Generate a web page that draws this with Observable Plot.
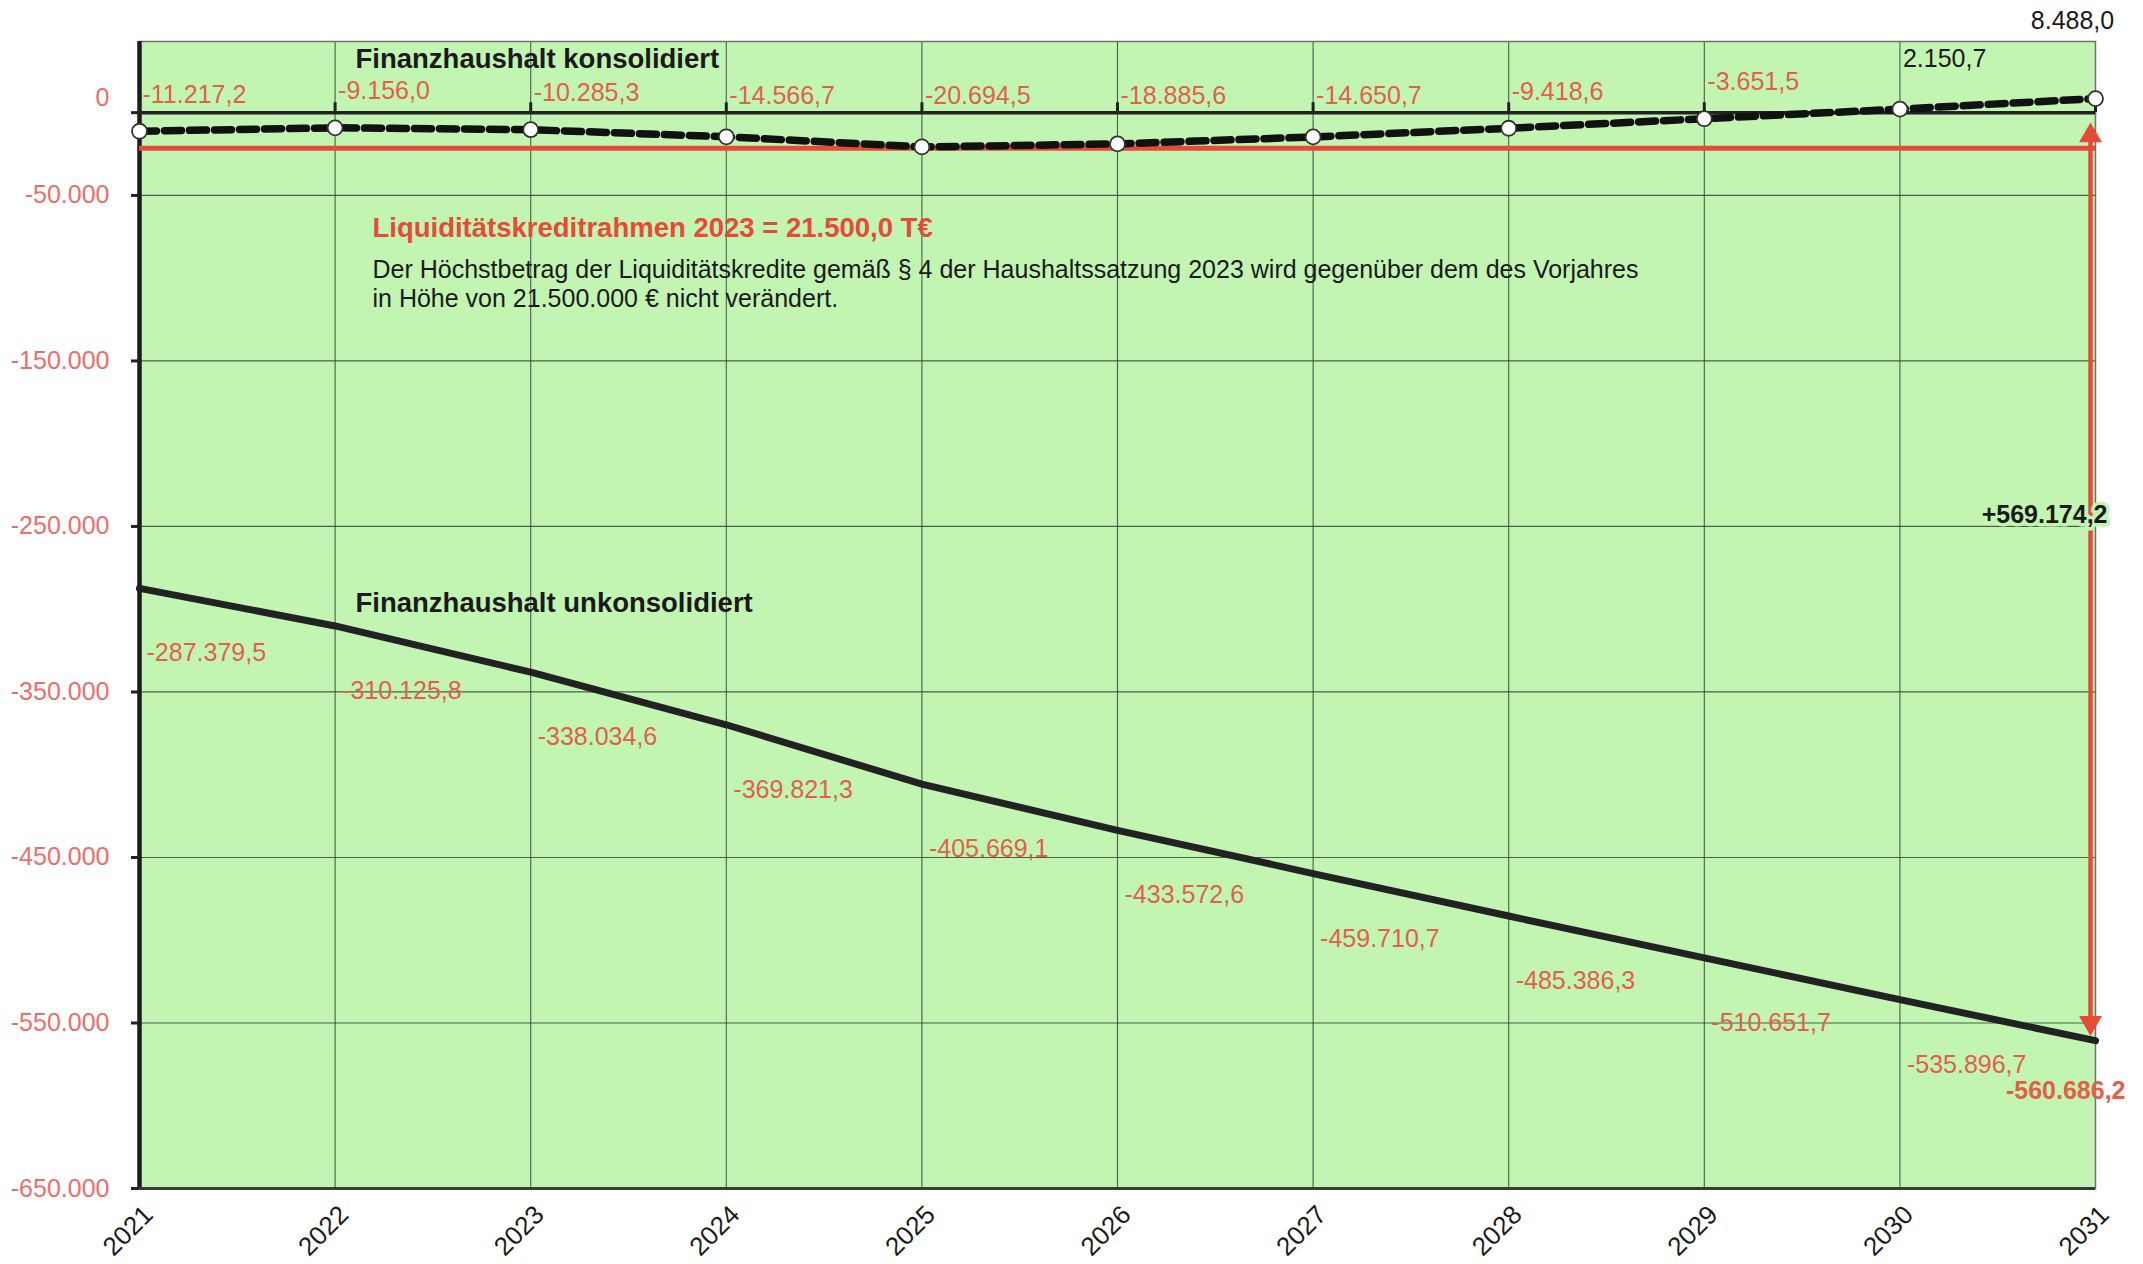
<!DOCTYPE html>
<html>
<head>
<meta charset="utf-8">
<script src="https://cdn.jsdelivr.net/npm/d3@7"></script>
<script src="https://cdn.jsdelivr.net/npm/@observablehq/plot@0.6"></script>
<style>
  html, body { margin: 0; padding: 0; background: #ffffff; }
  #chart svg { display: block; }
</style>
</head>
<body>
<div id="chart"></div>
<script>
// ---------- data ----------
const years = [2021, 2022, 2023, 2024, 2025, 2026, 2027, 2028, 2029, 2030, 2031];
const konsolidiert = [-11217.2, -9156.0, -10285.3, -14566.7, -20694.5, -18885.6, -14650.7, -9418.6, -3651.5, 2150.7, 8488.0];
const unkonsolidiert = [-287379.5, -310125.8, -338034.6, -369821.3, -405669.1, -433572.6, -459710.7, -485386.3, -510651.7, -535896.7, -560686.2];
const kreditrahmen = -21500;
const yTickValues = [0, -50000, -150000, -250000, -350000, -450000, -550000, -650000];
const gridValues = [-50000, -150000, -250000, -350000, -450000, -550000];
const labelKons = "Finanzhaushalt konsolidiert";
const labelUnkons = "Finanzhaushalt unkonsolidiert";
const rahmenTitle = "Liquiditätskreditrahmen 2023 = 21.500,0 T€";
const rahmenText = "Der Höchstbetrag der Liquiditätskredite gemäß § 4 der Haushaltssatzung 2023 wird gegenüber dem des Vorjahres\nin Höhe von 21.500.000 € nicht verändert.";

// ---------- helpers ----------
const de = d3.formatLocale({decimal: ",", thousands: ".", grouping: [3], currency: ["", " €"], minus: "-"});
const f1 = de.format(",.1f");
const f0 = de.format(",.0f");

const GREEN = "#c2f4b2";
const RED = "#e84a38";
const RED_TXT = "#e35f4c";
const RED_AX = "#ea6e6a";
const FONT = "'Liberation Sans', Arial, Helvetica, sans-serif";

const kons = years.map((y, i) => ({year: y, value: konsolidiert[i], i}));
const unk = years.map((y, i) => ({year: y, value: unkonsolidiert[i], i}));
const last = years.length - 1;
const diff = konsolidiert[last] - unkonsolidiert[last];

// label anchor for the consolidated series (above the zero line)
const konsLabelY = d => d.value > 0 ? d.value + 30000 : Math.max(d.value, -12000) + 22000;

const chart = Plot.plot({
  width: 2143,
  height: 1264,
  marginLeft: 139,
  marginRight: 48,
  marginTop: 41,
  marginBottom: 76,
  style: {fontFamily: FONT, background: "#ffffff", overflow: "visible"},
  x: {type: "linear", domain: [2021, 2031], axis: null},
  y: {type: "linear", domain: [-650000, 43000], axis: null},
  marks: [
    Plot.frame({fill: GREEN, stroke: "none"}),
    // grid
    Plot.ruleY(gridValues, {stroke: "#2e3a2e", strokeWidth: 1.2, strokeOpacity: 0.8}),
    Plot.ruleX(years.slice(1, -1), {stroke: "#2e3a2e", strokeWidth: 1.1, strokeOpacity: 0.8}),
    // frame border
    Plot.frame({stroke: "#6f6f6f", strokeWidth: 1.5}),
    // left and bottom axis lines
    Plot.ruleX([2021], {stroke: "#1c1c1c", strokeWidth: 4.5}),
    Plot.ruleY([-650000], {stroke: "#3a3a3a", strokeWidth: 3}),
    // y tick marks
    Plot.ruleY(yTickValues, {x1: 2021, x2: 2021, stroke: "#222", strokeWidth: 3, insetLeft: -8}),
    // zero line with year ticks
    Plot.ruleY([0], {stroke: "#222", strokeWidth: 3.5}),
    Plot.ruleX(years, {y1: 0, y2: 6000, stroke: "#222", strokeWidth: 3}),
    // credit limit line
    Plot.ruleY([kreditrahmen], {stroke: RED, strokeWidth: 5}),
    // unconsolidated line
    Plot.line(unk, {x: "year", y: "value", stroke: "#222", strokeWidth: 7}),
    // consolidated dashed line + markers
    Plot.line(kons, {x: "year", y: "value", stroke: "#111", strokeWidth: 7.5, strokeDasharray: "17,8"}),
    Plot.dot(kons, {x: "year", y: "value", r: 7.5, fill: "#ffffff", stroke: "#333", strokeWidth: 1.8}),
    // red double arrow
    Plot.ruleX([years[last]], {y1: 0, y2: unkonsolidiert[last], dx: -5, stroke: RED, strokeWidth: 4.5, insetTop: 20, insetBottom: 12}),
    Plot.dot([years[last]], {x: d => d, y: 0, dx: -5, dy: 23, symbol: "triangle", r: 8.5, fill: RED, stroke: "none"}),
    Plot.dot([years[last]], {x: d => d, y: unkonsolidiert[last], dx: -5, dy: -18, symbol: "triangle", rotate: 180, r: 8.5, fill: RED, stroke: "none"}),
    Plot.text([diff], {x: years[last], y: d => (unkonsolidiert[last] + konsolidiert[last]) / 2 + 33000, text: d => "+" + f1(d),
      textAnchor: "end", dx: 12, fontSize: 25, fontWeight: "bold", fill: "#1a1a1a", stroke: GREEN, strokeWidth: 7}),
    // consolidated labels
    Plot.text(kons.filter(d => d.i < last), {x: "year", y: konsLabelY, text: d => f1(d.value), textAnchor: "start", dx: 3,
      fontSize: 25, fill: d => d.value > 0 ? "#1a1a1a" : RED_TXT}),
    Plot.text(kons.filter(d => d.i === last), {x: "year", frameAnchor: "top", text: d => f1(d.value), textAnchor: "middle",
      lineAnchor: "middle", dx: -23, dy: -21, fontSize: 25, fill: "#1a1a1a"}),
    // unconsolidated labels
    Plot.text(unk.filter(d => d.i < last), {x: "year", y: "value", text: d => f1(d.value), textAnchor: "start", dx: 7, dy: 65,
      fontSize: 25, fill: RED_TXT}),
    Plot.text(unk.filter(d => d.i === last), {x: "year", y: "value", text: d => f1(d.value), textAnchor: "end", dx: 30, dy: 50,
      fontSize: 25, fontWeight: "bold", fill: RED_TXT}),
    // series titles
    Plot.text([labelKons], {frameAnchor: "top-left", lineAnchor: "middle", text: d => d, dx: 216, dy: 18, fontSize: 27.5, fontWeight: "bold", fill: "#1a1a1a", textAnchor: "start"}),
    Plot.text([labelUnkons], {frameAnchor: "top-left", lineAnchor: "middle", text: d => d, dx: 216, dy: 562, fontSize: 27.5, fontWeight: "bold", fill: "#1a1a1a", textAnchor: "start"}),
    // credit limit annotation
    Plot.text([rahmenTitle], {frameAnchor: "top-left", lineAnchor: "middle", text: d => d, dx: 233, dy: 187, fontSize: 27.5, fontWeight: "bold", fill: RED, textAnchor: "start"}),
    Plot.text([rahmenText], {frameAnchor: "top-left", lineAnchor: "top", text: d => d, dx: 233, dy: 216, fontSize: 25, lineHeight: 1.15, fill: "#1a1a1a", textAnchor: "start"}),
    // y axis labels
    Plot.text(yTickValues.filter(d => d !== 0), {y: d => d, frameAnchor: "left", text: d => f0(d), textAnchor: "end", dx: -30,
      fontSize: 25, fill: RED_AX}),
    Plot.text(yTickValues.filter(d => d === 0), {y: d => d, frameAnchor: "left", text: d => f0(d), textAnchor: "end", dx: -30, dy: -15,
      fontSize: 25, fill: RED_AX}),
    // x axis labels
    Plot.text(years, {x: d => d, frameAnchor: "bottom", lineAnchor: "middle", text: d => String(d), rotate: -45, textAnchor: "end", dx: 9, dy: 22,
      fontSize: 26, fill: "#1a1a1a"})
  ]
});
document.getElementById("chart").appendChild(chart);
</script>
</body>
</html>
